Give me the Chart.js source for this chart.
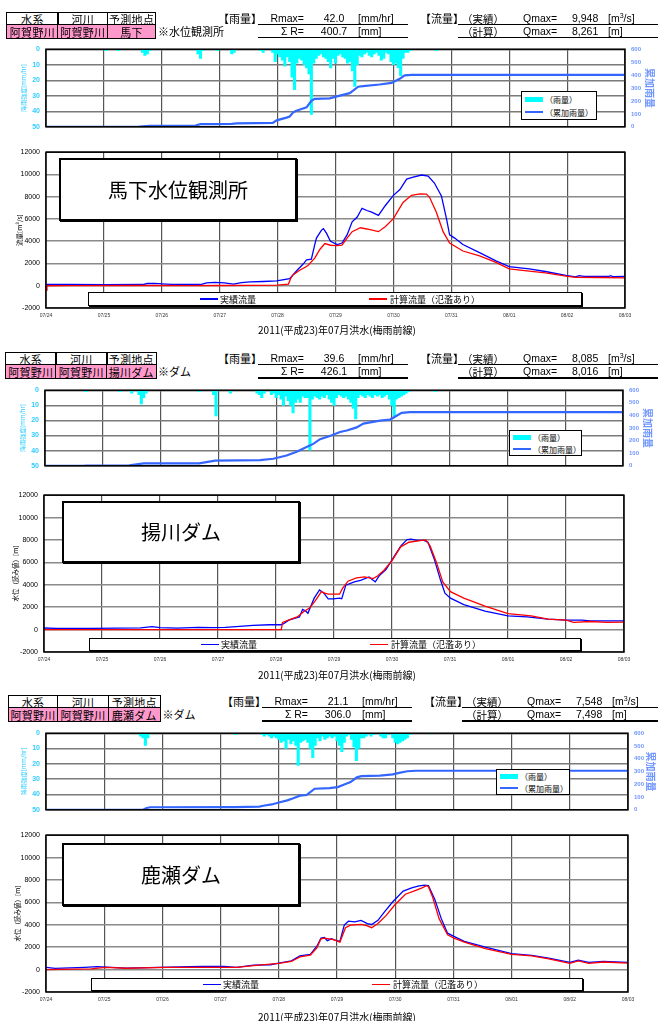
<!DOCTYPE html>
<html lang="ja"><head><meta charset="utf-8">
<script src="https://cdn.jsdelivr.net/npm/chart.js@4.4.1/dist/chart.umd.min.js"></script>
<style>
html,body{margin:0;padding:0;background:#fff}
body{position:relative;width:658px;height:1021px;overflow:hidden;font-family:"Noto Sans CJK JP","Noto Sans",sans-serif;color:#000}
.t{position:absolute;white-space:nowrap}
.lat{font-family:"Liberation Sans",Arial,sans-serif}
.cell{position:absolute;box-sizing:border-box;border:1.5px solid #000;display:flex;align-items:center;justify-content:center;font-size:11px;line-height:12px;letter-spacing:0.3px}
.box{position:absolute;box-sizing:border-box;background:#fff;border:1.5px solid #000}
.ln{position:absolute}
canvas{position:absolute;left:0}
</style></head><body>
<script>
// ---------------- DATA ----------------
const dayLabels = ['07/24','07/25','07/26','07/27','07/28','07/29','07/30','07/31','08/01','08/02','08/03'];
const headerLabels = ['水系','河川','予測地点'];
const systemName = '阿賀野川';
const riverName = '阿賀野川';
const stationNames = ['馬下','揚川ダム','鹿瀬ダム'];
const stationNotes = ['※水位観測所','※ダム','※ダム'];
const stationTitles = ['馬下水位観測所','揚川ダム','鹿瀬ダム'];
const flowAxisTitles = ['流量[m³/s]','水位（読み値）[m]','水位（読み値）[m]'];
const rMax = ['42.0','39.6','21.1'];
const sumR = ['400.7','426.1','306.0'];
const qMaxObs = ['9,948','8,085','7,548'];
const qMaxCalc = ['8,261','8,016','7,498'];
const caption = '2011(平成23)年07月洪水(梅雨前線)';
const legendObs = '実績流量';
const legendCalc = '計算流量（氾濫あり）';
const legendRain = '（雨量）';
const legendCum = '（累加雨量）';

// hourly rainfall [hour from 07/24 00:00, mm/hr]
const rain1 = [[25,1],[30,1],[40,2],[41,4],[42,3],[43,1],[63,3],[64,6],[65,1],[71,1],[77,3],[78,2],[89,1],[90,2],
 [94,2],[95,8],[96,3],[97,5],[98,7],[99,11],[100,5],[101,8],[102,18],[103,26],[104,9],[105,6],[106,7],[107,10],[108,12],[109,16],[110,42.0],[111,9],[112,6],[113,4],[114,3],[115,5],[116,6],[117,8],[118,12],[119,6],[120,9],[121,4],[122,3],[123,5],[124,6],[125,9],[126,8],[127,14],[128,24],[129,10],[130,4],[131,5],[132,3],[133,2],[134,4],[135,5],[136,3],[137,2],[138,4],[139,7],[140,6],[141,2],[142,3],[143,8],[144,10],[145,9],[146,12],[147,17],[148,6],[149,2],[150,2],[151,1],[162,1]];
const rain2 = [[17,1],[31,1],[36,2],[39,3],[40,9],[41,5],[42,2],[64,1],[70,3],[71,17],[77,2],[88,2],[89,3],[90,5],[91,2],[94,3],[95,2],[96,5],[97,3],[98,6],[99,10],[100,4],[101,7],[102,10],[103,15],[104,8],[105,6],[106,8],[107,4],[108,5],[109,5],[110,39.6],[111,6],[112,4],[113,5],[114,6],[115,4],[116,5],[117,3],[118,6],[119,8],[120,10],[121,5],[122,3],[123,4],[124,5],[125,4],[126,6],[127,8],[128,12],[129,19],[130,5],[131,3],[132,4],[133,5],[134,3],[135,4],[136,5],[137,3],[138,4],[139,3],[140,5],[141,4],[142,3],[143,6],[144,10],[145,17],[146,6],[147,5],[148,4],[149,3],[150,2],[151,1],[162,1]];
const rain3 = [[39,2],[40,3],[41,8],[42,3],[78,1],[89,1],[90,2],[91,1],[92,2],[93,3],[94,2],[95,3],[96,4],[97,6],[98,5],[99,10],[100,4],[101,7],[102,5],[103,8],[104,21.1],[105,6],[106,5],[107,4],[108,6],[109,10],[110,16],[111,8],[112,3],[113,5],[114,2],[115,4],[116,3],[117,2],[118,3],[119,2],[120,5],[121,8],[122,12],[123,6],[124,2],[125,1],[126,4],[127,9],[128,18],[129,10],[130,3],[131,3],[132,2],[134,2],[135,1],[138,2],[139,3],[140,3],[141,1],[143,3],[144,6],[145,7],[146,6],[147,5],[148,4],[149,3],[150,1],[159,0.5]];

// cumulative rainfall [hour, mm]
const cum1 = [[0,0],[38,0],[40,3],[43,8],[62,9],[64,20],[70,21],[77,22],[79,27],[94,30],[95.6,50],[99.7,71],[101,80],[102.4,110],[103.5,122],[105,132],[108,150],[110,200],[111.4,216],[117.6,220],[121.8,241],[125.9,260],[129.4,310],[131.4,314],[138.3,327],[143.2,339],[146.6,371],[148.7,398],[151.5,401],[240,401]];
const cum2 = [[0,0],[16,0],[17,1],[31,2],[35,4],[41,19],[64,20],[70.6,41],[89.3,45],[94.8,56],[100.3,82],[104.5,112],[108.6,149],[111.4,174],[114.2,211],[118.3,236],[122.5,268],[125.3,280],[129.4,305],[132.2,335],[139.1,358],[143.3,367],[146,397],[148.1,420],[151.6,426],[240,426]];
const cum3 = [[0,0],[40,0],[41.5,14],[43,20],[78,21],[88,25],[89.6,32],[93.1,42],[96,57],[99.5,74],[102,91],[104.7,111],[107.5,116],[110.8,165],[116.9,170],[120.3,178],[123,198],[125.6,217],[128.2,254],[130,264],[137.7,267],[143,277],[145.6,289],[149,302],[152.5,306],[240,306]];

// observed flow (blue) and computed flow (red) [hour, value]
const obs1 = [[0,120],[10,110],[24,100],[40,110],[42,200],[45,210],[48,170],[52,120],[64,110],[66.6,250],[70,300],[74,260],[77.7,150],[81,280],[84.6,350],[90,380],[95.6,430],[101,640],[104,1370],[106.6,1950],[108,2330],[110,2380],[111.4,3700],[112.1,4280],[114.2,5000],[115,5130],[116.3,4700],[117.9,3990],[120.7,3700],[122.7,3840],[124.8,4570],[126.9,5740],[129,6170],[131,6960],[133,6760],[135,6610],[137.8,6320],[140.6,7190],[144,8125],[146.7,8650],[149.5,9580],[152.2,9760],[155.7,9948],[158.4,9860],[161,9230],[163.9,8070],[166,6030],[167.3,4570],[169.4,4280],[172.8,3700],[179.7,2970],[186.5,2240],[192,1720],[200.3,1510],[207,1280],[215.5,930],[219.5,790],[221,900],[223,840],[227.7,845],[233.3,830],[234,900],[235,820],[240,845]];
const calc1 = [[0,-400],[0.4,0],[10,10],[40,20],[60,10],[72,20],[84,40],[96,50],[100.5,150],[101.5,700],[102.5,1000],[105,1370],[108.5,1800],[111.4,2480],[113.5,3260],[115.6,3790],[117.9,3640],[120.7,3600],[122.7,3640],[124.8,4280],[126.9,4860],[130.3,5210],[133,5100],[137.8,4860],[140.6,5300],[144,6030],[148,7480],[151.5,8130],[155,8261],[157.7,8240],[159,7950],[161.8,6610],[164.6,4860],[167.3,3840],[172.8,3120],[179.7,2680],[186.5,2100],[192,1510],[200.3,1310],[207,1150],[215.5,870],[219.5,760],[230,740],[240,700]];
const obs2 = [[0,145],[5,115],[20,115],[30,130],[40,150],[44.7,260],[48,170],[55,130],[63.8,200],[70,170],[75,200],[79.5,260],[86.5,377],[93.5,435],[98,435],[99,500],[101.3,840],[104,1015],[105.7,1130],[107,1800],[108.3,1650],[109.2,1450],[111.8,2810],[114,3540],[115.8,3250],[117.6,2750],[119.7,2750],[122.3,2810],[123.2,2750],[124.9,3970],[128.4,4260],[131,4400],[134.5,4700],[136.2,4400],[137.1,4260],[138.8,4840],[141.5,5360],[144,6230],[147.6,7450],[150.2,8030],[151.9,8085],[154.5,7970],[157.2,7970],[158.9,7800],[161.5,6290],[164.1,4400],[165.9,3250],[168.2,2810],[173.7,2230],[182.5,1650],[192,1220],[199.9,1130],[208.6,928],[216.1,840],[222.6,840],[226,780],[233,780],[240,780]];
const calc2 = [[0,0],[98.2,0],[98.7,640],[102.2,930],[104.8,1130],[107.4,1600],[110,1940],[112.3,2580],[114.8,3390],[116.2,3250],[117.6,3160],[122.3,3160],[123.5,3680],[125.8,4320],[129.3,4610],[132.7,4700],[136.2,4550],[138,4780],[140.6,5280],[144,6150],[147.6,7390],[151,7800],[156.3,7970],[158,8016],[159.8,7450],[162.4,6000],[165,4260],[168.2,3390],[173.7,2810],[182.5,2090],[192,1420],[201.6,1220],[208.6,928],[216.1,840],[219.1,640],[226,725],[233,640],[240,670]];
const obs3 = [[0,200],[3.8,110],[16,200],[21,260],[33,140],[42,170],[59.5,260],[64.7,290],[73.4,290],[78.6,200],[85.6,406],[92.5,435],[96,580],[101.2,780],[104.7,1220],[109,1360],[111.7,2090],[113.4,2810],[114.8,2870],[116,2580],[117.7,2750],[119.5,2610],[121.2,2520],[123,3970],[124.7,4320],[127.3,4260],[129.9,4400],[132.5,4110],[134.3,4030],[136.9,4400],[139.5,5130],[143,6060],[147.3,7010],[150.8,7300],[153.4,7450],[156,7548],[157.7,7490],[160.3,6290],[163,4550],[165.6,3250],[168.2,2960],[172.5,2520],[181.2,2000],[192,1420],[200.3,1275],[207.3,1015],[216,640],[219.5,840],[223.8,640],[229.9,725],[240,640]];
const calc3 = [[0,0],[18.6,60],[24.7,200],[33,120],[50,200],[68,200],[78.6,200],[85.6,350],[96,550],[101.2,725],[104.7,1130],[109,1300],[111.7,1940],[113.4,2750],[114.8,2810],[118.6,2670],[121.2,2460],[123.5,3740],[125.6,3970],[130,4030],[132.5,3910],[134.3,3740],[136.9,4110],[140.3,4840],[143.8,5770],[148.2,6730],[151.7,7010],[155.1,7300],[156.9,7498],[157.7,7400],[159.5,6440],[162.1,4550],[165.6,3100],[168.2,2810],[172.5,2460],[181.2,1880],[192,1360],[200.3,1220],[207.3,960],[216,550],[219.5,780],[223.8,550],[229.9,680],[240,580]];

const rainSeries = [rain1, rain2, rain3];
const cumSeries = [cum1, cum2, cum3];
const obsSeries = [obs1, obs2, obs3];
const calcSeries = [calc1, calc2, calc3];

// ---------------- LAYOUT ----------------
const layouts = [
 { hx:[6,57.3,106.7,155], hy:[11.7,24.3,37.3], dx:0,
   rain:{top:47,bottom:129,left:46,right:625}, rainLeg:[521,91,597,120],
   flow:{top:148,bottom:308,left:46,right:625}, titleBox:[59,158,297,221], flowLeg:[88,292,582,306],
   capY:330, rainTitleX:24, flowTitleX:19.5, rightTitleX:649.5 },
 { hx:[5,55,106,155], hy:[351.7,364.3,377.7], dx:0,
   rain:{top:388,bottom:468,left:45,right:623}, rainLeg:[509,430,582,456],
   flow:{top:491,bottom:652,left:44,right:624}, titleBox:[62,501,300,563], flowLeg:[89,638,581,651],
   capY:675, rainTitleX:22.5, flowTitleX:16, rightTitleX:648 },
 { hx:[7.6,57,107.6,159.5], hy:[695,707.3,720.7], dx:4,
   rain:{top:731,bottom:812,left:46,right:628}, rainLeg:[496,769,570,795],
   flow:{top:831,bottom:992,left:46,right:628}, titleBox:[62,843,300,906], flowLeg:[91,978,583,991],
   capY:1017, rainTitleX:24, flowTitleX:18, rightTitleX:651 }
];

const CJK = '"Noto Sans CJK JP","Noto Sans",sans-serif';
const LAT = '"Liberation Sans",Arial,sans-serif';
Chart.defaults.font.family = LAT;
Chart.defaults.color = '#000';

function T(html, x, y, size, opt = {}) {
  const d = document.createElement('div');
  d.className = 't' + (opt.lat ? ' lat' : '');
  d.innerHTML = html;
  const lh = Math.round(size * 1.4);
  d.style.fontSize = size + 'px';
  d.style.lineHeight = lh + 'px';
  d.style.top = (y - lh / 2) + 'px';
  d.style.left = x + 'px';
  if (opt.align === 'center') d.style.transform = 'translateX(-50%)';
  else if (opt.align === 'right') d.style.transform = 'translateX(-100%)';
  if (opt.color) d.style.color = opt.color;
  if (opt.weight) d.style.fontWeight = opt.weight;
  document.body.appendChild(d);
  return d;
}
function R(x, y, w, h, color) {
  const d = document.createElement('div');
  d.className = 'ln';
  d.style.cssText += `left:${x}px;top:${y}px;width:${w}px;height:${h}px;background:${color}`;
  document.body.appendChild(d);
}
function Box(b, extra) {
  const d = document.createElement('div');
  d.className = 'box';
  d.style.left = b[0] + 'px'; d.style.top = b[1] + 'px';
  d.style.width = (b[2] - b[0]) + 'px'; d.style.height = (b[3] - b[1]) + 'px';
  if (extra) d.style.cssText += extra;
  document.body.appendChild(d);
  return d;
}

const framePlugin = {
  id: 'frame',
  afterDraw(chart) {
    const { ctx, chartArea: a } = chart;
    ctx.save();
    ctx.strokeStyle = '#000';
    ctx.lineWidth = 1.5;
    ctx.strokeRect(a.left, a.top, a.right - a.left, a.bottom - a.top);
    ctx.restore();
  }
};

function header(i) {
  const L = layouts[i];
  const hx = L.hx, hy = L.hy;
  const row2 = [systemName, riverName, stationNames[i]];
  for (let r = 0; r < 2; r++) for (let c = 0; c < 3; c++) {
    const d = document.createElement('div');
    d.className = 'cell';
    d.style.left = hx[c] + 'px';
    d.style.top = hy[r] + 'px';
    d.style.width = (hx[c + 1] - hx[c] + 1.5) + 'px';
    d.style.height = (hy[r + 1] - hy[r] + 1.5) + 'px';
    if (r === 1) d.style.background = '#ff99cc';
    d.textContent = r === 0 ? headerLabels[c] : row2[c];
    document.body.appendChild(d);
  }
  const y1 = (hy[0] + hy[1]) / 2 + 0.5, y2 = (hy[1] + hy[2]) / 2 + 0.5;
  T(stationNotes[i], hx[3] + 3, y2, 11);
  const dx = L.dx;
  T('【雨量】', 218 + dx, y1, 11);
  T('Rmax=', 304 + dx, y1, 10.5, { lat: 1, align: 'right' });
  T('Σ R=', 304 + dx, y2, 10.5, { lat: 1, align: 'right' });
  T(rMax[i], 334 + dx, y1, 10.5, { lat: 1, align: 'center' });
  T(sumR[i], 334 + dx, y2, 10.5, { lat: 1, align: 'center' });
  T('[mm/hr]', 358 + dx, y1, 10.5, { lat: 1 });
  T('[mm]', 358 + dx, y2, 10.5, { lat: 1 });
  R(258 + dx, hy[1] - 0.5, 150, 1.5, '#000');
  R(258 + dx, hy[2] - 0.5, 150, 1.5, '#000');
  T('【流量】', 420 + dx, y1, 11);
  T('（実績）', 462 + dx, y1, 10.5);
  T('（計算）', 462 + dx, y2, 10.5);
  T('Qmax=', 523 + dx, y1, 10.5, { lat: 1 });
  T('Qmax=', 523 + dx, y2, 10.5, { lat: 1 });
  T(qMaxObs[i], 572 + dx, y1, 10.5, { lat: 1 });
  T(qMaxCalc[i], 572 + dx, y2, 10.5, { lat: 1 });
  T('[m<sup style="font-size:7px;line-height:0;vertical-align:4px">3</sup>/s]', 608 + dx, y1, 10.5, { lat: 1 });
  T('[m]', 608 + dx, y2, 10.5, { lat: 1 });
  R(458 + dx, hy[1] - 0.5, 200 - dx, 1.5, '#000');
  R(458 + dx, hy[2] - 0.5, 200 - dx, 1.5, '#000');
}

function rainChart(i) {
  const L = layouts[i], r = L.rain;
  const padT = 8, padB = 8, yLW = 30, yRW = 32;
  const H = r.bottom - r.top + padT + padB;
  const cv = document.createElement('canvas');
  cv.width = 658; cv.height = H;
  cv.style.top = (r.top - padT) + 'px';
  cv.style.width = '658px'; cv.style.height = H + 'px';
  document.body.appendChild(cv);
  const lt = 6, rt = 10;
  const leftPad = L.rainTitleX - (r.left - yLW) - lt * 1.2 / 2;
  const rightPad = Math.max(0, r.right + yRW - L.rightTitleX - rt * 1.2 / 2);
  new Chart(cv, {
    type: 'bar',
    data: { datasets: [
      { type: 'line', data: cumSeries[i].map(p => ({ x: p[0], y: p[1] })), yAxisID: 'y2',
        borderColor: '#3366ff', borderWidth: 2.2, pointRadius: 0, tension: 0, order: 1 },
      { type: 'bar', data: rainSeries[i].map(p => ({ x: p[0], y: p[1] })), yAxisID: 'y',
        backgroundColor: '#00ffff', borderWidth: 0, barPercentage: 1, categoryPercentage: 1, order: 2 }
    ] },
    options: {
      responsive: false, animation: false, events: [],
      layout: { padding: { left: r.left - yLW, right: 658 - r.right - yRW, top: padT, bottom: padB } },
      plugins: { legend: { display: false }, tooltip: { enabled: false } },
      scales: {
        x: { type: 'linear', min: 0, max: 240, offset: false,
          ticks: { stepSize: 24, display: false },
          grid: { color: '#555', lineWidth: 1.2, drawTicks: false, offset: false },
          border: { display: false },
          afterFit: s => { s.height = 0; } },
        y: { position: 'left', reverse: true, min: 0, max: 50,
          ticks: { stepSize: 10, color: '#33ccff', font: { size: 7, weight: 'bold' }, padding: 6, callback: v => String(v) },
          grid: { color: '#7a7a7a', lineWidth: 1.4, drawTicks: false },
          border: { display: false },
          title: { display: true, text: '降雨強度[mm/hr]', color: '#33ccff', font: { size: lt, family: CJK }, padding: { top: leftPad, bottom: 0 } },
          afterFit: s => { s.width = yLW; } },
        y2: { position: 'right', min: 0, max: 600,
          ticks: { stepSize: 100, color: '#6f95ff', font: { size: 6, weight: 'bold' }, padding: 6, callback: v => String(v) },
          grid: { display: false, drawTicks: false },
          border: { display: false },
          title: { display: true, text: '累加雨量', color: '#6f95ff', font: { size: rt, family: CJK, weight: 'bold' }, padding: { top: rightPad, bottom: 0 } },
          afterFit: s => { s.width = yRW; } }
      }
    },
    plugins: [framePlugin]
  });
  // legend
  const b = L.rainLeg, h = b[3] - b[1];
  Box(b, 'border-width:1px');
  const yA = b[1] + 0.28 * h, yB = b[1] + 0.74 * h;
  R(b[0] + 4, yA - 2.5, 18, 5, '#00ffff');
  T(legendRain, b[0] + 24, yA, 8);
  R(b[0] + 4, yB - 1, 18, 2, '#3366ff');
  T(legendCum, b[0] + 24, yB, 8);
}

function flowChart(i) {
  const L = layouts[i], f = L.flow;
  const padT = 6, xH = 16, padB = 2, yLW = 30;
  const H = f.bottom - f.top + padT + xH + padB;
  const cv = document.createElement('canvas');
  cv.width = 658; cv.height = H;
  cv.style.top = (f.top - padT) + 'px';
  cv.style.width = '658px'; cv.style.height = H + 'px';
  document.body.appendChild(cv);
  const ft = 6.5;
  const leftPad = L.flowTitleX - (f.left - yLW) - ft * 1.2 / 2;
  new Chart(cv, {
    type: 'line',
    data: { datasets: [
      { data: obsSeries[i].map(p => ({ x: p[0], y: p[1] })), borderColor: '#0000ff', borderWidth: 1.3, pointRadius: 0, tension: 0, order: 2 },
      { data: calcSeries[i].map(p => ({ x: p[0], y: p[1] })), borderColor: '#ff0000', borderWidth: 1.3, pointRadius: 0, tension: 0, order: 1 }
    ] },
    options: {
      responsive: false, animation: false, events: [],
      layout: { padding: { left: f.left - yLW, right: 658 - f.right, top: padT, bottom: padB } },
      plugins: { legend: { display: false }, tooltip: { enabled: false } },
      scales: {
        x: { type: 'linear', min: 0, max: 240,
          ticks: { stepSize: 24, autoSkip: false, maxRotation: 0, color: '#333', font: { size: 5 }, padding: 5,
            callback: v => dayLabels[Math.round(v / 24)] },
          grid: { color: '#555', lineWidth: 1.2, drawTicks: false },
          border: { display: false },
          afterFit: s => { s.height = xH; } },
        y: { min: -2000, max: 12000,
          ticks: { stepSize: 2000, font: { size: 7 }, padding: 6, callback: v => String(v) },
          grid: { color: '#8a8a8a', lineWidth: 1.6, drawTicks: false },
          border: { display: false },
          title: { display: true, text: flowAxisTitles[i], font: { size: ft, family: CJK }, padding: { top: leftPad, bottom: 0 } },
          afterFit: s => { s.width = yLW; } }
      }
    },
    plugins: [framePlugin]
  });
  // title box
  const tb = L.titleBox;
  Box(tb, 'border-width:2px;box-shadow:1px 1px 0 #000');
  T(stationTitles[i], (tb[0] + tb[2]) / 2, (tb[1] + tb[3]) / 2, 20, { align: 'center' });
  // legend
  const lb = L.flowLeg, cy = (lb[1] + lb[3]) / 2;
  Box(lb, 'box-shadow:1px 1px 0 #000');
  R(lb[0] + 112, cy - 0.7, 18, 1.4, '#0000ff');
  T(legendObs, lb[0] + 132, cy, 9);
  R(lb[0] + 281, cy - 0.7, 18, 1.4, '#ff0000');
  T(legendCalc, lb[0] + 302, cy, 9);
  // caption
  T(caption, 337, L.capY, 10, { align: 'center' });
}

for (let i = 0; i < 3; i++) {
  rainChart(i);
  flowChart(i);
  header(i);
}
</script>
</body></html>
